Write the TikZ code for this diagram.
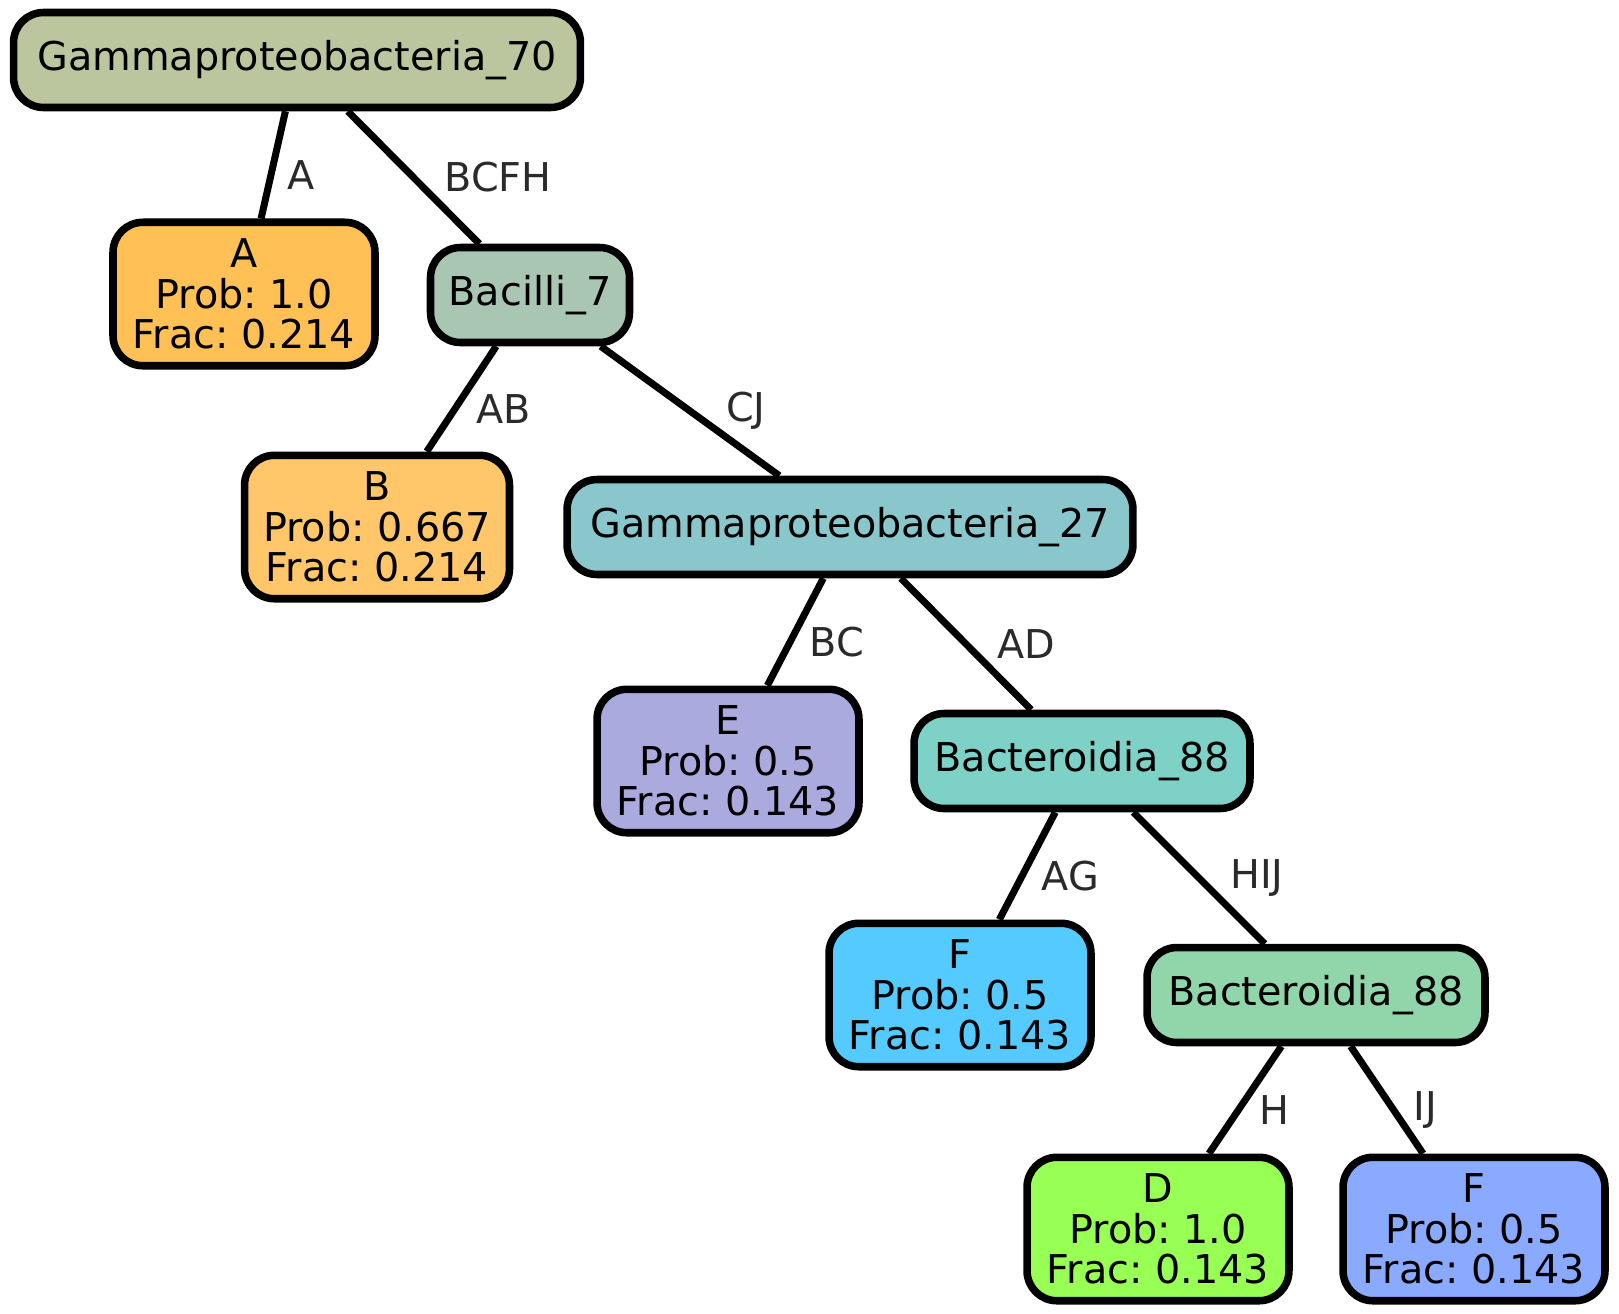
\documentclass[tikz,border=0pt]{standalone}
\usepackage{fontspec}
\setmainfont{DejaVu Sans}
\usetikzlibrary{positioning}
\frenchspacing

% node colours
\definecolor{gammaS}{HTML}{BBC69F}
\definecolor{leafA}{HTML}{FFC155}
\definecolor{bacilliS}{HTML}{A9C6B3}
\definecolor{leafB}{HTML}{FFC66A}
\definecolor{gammaT}{HTML}{8AC7CC}
\definecolor{leafE}{HTML}{AAAADF}
\definecolor{bactA}{HTML}{7DD1C6}
\definecolor{leafF}{HTML}{55CAFF}
\definecolor{bactB}{HTML}{91D5AA}
\definecolor{leafD}{HTML}{98FF55}
\definecolor{leafG}{HTML}{8AAAFF}
\definecolor{lblgray}{HTML}{2A2A2A}

\begin{document}
\begin{tikzpicture}[x=0.02cm, y=-0.02cm,
    box/.style={draw=black, line width=4.3pt, rounded corners=0.6cm,
        align=center, inner sep=0pt,
        font=\fontsize{22.6}{23}\selectfont},
    inner/.style={box, minimum height=1.9cm},
    leaf/.style={box, minimum width=5.24cm, minimum height=2.87cm},
    link/.style={line width=4pt},
    lbl/.style={midway, right=3pt, text=lblgray,
        font=\fontsize{22.6}{23}\selectfont},
    steep/.style={lbl, yshift=-0.2cm},
    wide/.style={lbl, xshift=0.33cm}]

    % picture frame
    \useasboundingbox (0, 0) rectangle (1619, 1313);

    % inner nodes
    \node[inner, fill=gammaS, minimum width=11.34cm] (g70) at (297, 60) {Gammaproteobacteria\_70};
    \node[inner, fill=bacilliS, minimum width=3.98cm] (bac7) at (530, 295) {Bacilli\_7};
    \node[inner, fill=gammaT, minimum width=11.32cm] (g27) at (850, 527) {Gammaproteobacteria\_27};
    \node[inner, fill=bactA, minimum width=6.72cm] (bactA) at (1082, 761) {Bacteroidia\_88};
    \node[inner, fill=bactB, minimum width=6.76cm] (bactB) at (1316, 995) {Bacteroidia\_88};

    % leaves
    \node[leaf, fill=leafA] (lA) at (244, 294) {A\\Prob: 1.0\\Frac: 0.214};
    \node[leaf, fill=leafB, minimum width=5.3cm] (lB) at (377, 527) {B\\Prob: 0.667\\Frac: 0.214};
    \node[leaf, fill=leafE] (lE) at (728, 761) {E\\Prob: 0.5\\Frac: 0.143};
    \node[leaf, fill=leafF] (lF) at (960, 995) {F\\Prob: 0.5\\Frac: 0.143};
    \node[leaf, fill=leafD] (lD) at (1158, 1229) {D\\Prob: 1.0\\Frac: 0.143};
    \node[leaf, fill=leafG] (lG) at (1474, 1229) {F\\Prob: 0.5\\Frac: 0.143};

    % edges with their labels
    \draw[link] (g70) -- node[steep] {A} (lA);
    \draw[link] (g70) -- node[wide] {BCFH} (bac7);
    \draw[link] (bac7) -- node[steep] {AB} (lB);
    \draw[link] (bac7) -- node[wide, xshift=0.1cm] {CJ} (g27);
    \draw[link] (g27) -- node[steep] {BC} (lE);
    \draw[link] (g27) -- node[wide] {AD} (bactA);
    \draw[link] (bactA) -- node[steep] {AG} (lF);
    \draw[link] (bactA) -- node[wide] {HIJ} (bactB);
    \draw[link] (bactB) -- node[steep] {H} (lD);
    \draw[link] (bactB) -- node[steep, xshift=0.25cm] {IJ} (lG);

\end{tikzpicture}
\end{document}
